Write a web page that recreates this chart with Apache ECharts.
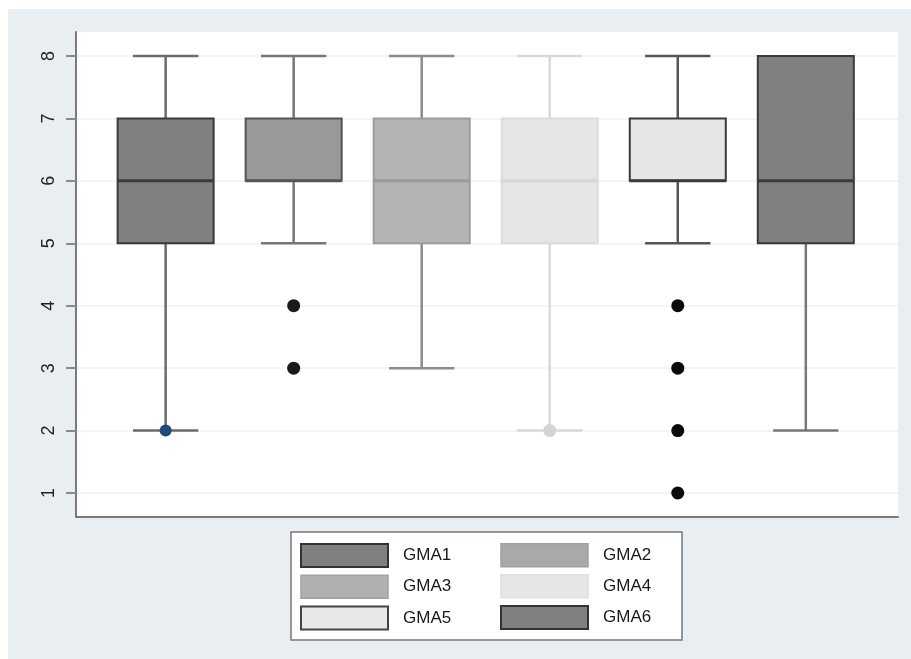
<!DOCTYPE html>
<html>
<head>
<meta charset="utf-8">
<script src="https://cdn.jsdelivr.net/npm/echarts@6/dist/echarts.min.js"></script>
<style>
  html, body { margin: 0; padding: 0; background: #fff; }
  #container { width: 911px; height: 659px; }
</style>
</head>
<body>
<div id="container"></div>
<script>
// 各组名称（x轴位置按顺序 1..6）
var groups = ['GMA1', 'GMA2', 'GMA3', 'GMA4', 'GMA5', 'GMA6'];
// 箱线图五数：下须、Q1、中位数、Q3、上须
var lowWhisker = [2, 5, 3, 2, 5, 2];
var q1Values = [5, 6, 5, 5, 6, 5];
var medians = [6, 6, 6, 6, 6, 6];
var q3Values = [7, 7, 7, 7, 7, 8];
var highWhisker = [8, 8, 8, 8, 8, 8];
// 离群点
var outliers = [[2], [4, 3], [], [2], [4, 3, 2, 1], []];
// y轴刻度
var yTicks = [1, 2, 3, 4, 5, 6, 7, 8];

// 样式（与数据分开）
var boxStyles = [
    { fill: '#808080', border: '#3a3a3a', whisker: '#6b6b6b', median: '#3a3a3a', dot: '#1d4b7a' },
    { fill: '#999999', border: '#555555', whisker: '#777777', median: '#555555', dot: '#1a1a1a' },
    { fill: '#b4b4b4', border: '#9c9c9c', whisker: '#8c8c8c', median: '#999999', dot: '#1a1a1a' },
    { fill: '#e6e6e6', border: '#dcdcdc', whisker: '#dadada', median: '#d6d6d6', dot: '#d4d4d4' },
    { fill: '#e6e6e6', border: '#3a3a3a', whisker: '#555555', median: '#3a3a3a', dot: '#0a0a0a' },
    { fill: '#808080', border: '#3a3a3a', whisker: '#777777', median: '#3a3a3a', dot: '#1a1a1a' }
];
var legendStyles = [
    { color: '#808080', borderColor: '#333333', borderWidth: 2 },
    { color: '#a9a9a9', borderColor: '#a0a0a0', borderWidth: 1.5 },
    { color: '#b0b0b0', borderColor: '#a2a2a2', borderWidth: 1.5 },
    { color: '#e6e6e6', borderColor: '#e0e0e0', borderWidth: 1.5 },
    { color: '#e8e8e8', borderColor: '#444444', borderWidth: 2 },
    { color: '#808080', borderColor: '#333333', borderWidth: 2 }
];

function renderBox(params, api) {
    var s = boxStyles[Math.floor(params.seriesIndex / 2)];
    var x = api.value(0);
    var lo = api.coord([x, api.value(1)]);
    var q1 = api.coord([x, api.value(2)]);
    var md = api.coord([x, api.value(3)]);
    var q3 = api.coord([x, api.value(4)]);
    var hi = api.coord([x, api.value(5)]);
    var w = api.size([0.75, 0])[0];
    var cap = w * 0.68;
    var cx = lo[0];
    var children = [];
    var lineStyle = { stroke: s.whisker, lineWidth: 2.5 };

    // 须线
    if (hi[1] < q3[1]) {
        children.push({ type: 'line', shape: { x1: cx, y1: q3[1], x2: cx, y2: hi[1] }, style: lineStyle });
        children.push({ type: 'line', shape: { x1: cx - cap / 2, y1: hi[1], x2: cx + cap / 2, y2: hi[1] }, style: lineStyle });
    }
    if (lo[1] > q1[1]) {
        children.push({ type: 'line', shape: { x1: cx, y1: q1[1], x2: cx, y2: lo[1] }, style: lineStyle });
        children.push({ type: 'line', shape: { x1: cx - cap / 2, y1: lo[1], x2: cx + cap / 2, y2: lo[1] }, style: lineStyle });
    }
    // 箱体
    children.push({
        type: 'rect',
        shape: { x: cx - w / 2, y: q3[1], width: w, height: q1[1] - q3[1] },
        style: { fill: s.fill, stroke: s.border, lineWidth: 2 }
    });
    // 中位数
    children.push({
        type: 'line',
        shape: { x1: cx - w / 2, y1: md[1], x2: cx + w / 2, y2: md[1] },
        style: { stroke: s.median, lineWidth: 3 }
    });
    return { type: 'group', children: children };
}

var series = [];
groups.forEach(function (name, i) {
    series.push({
        name: name,
        type: 'custom',
        renderItem: renderBox,
        itemStyle: { color: boxStyles[i].fill },
        data: [[i + 1, lowWhisker[i], q1Values[i], medians[i], q3Values[i], highWhisker[i]]],
        z: 2
    });
    series.push({
        name: name + ' outliers',
        type: 'scatter',
        symbolSize: i === 0 ? 12 : 13,
        itemStyle: { color: boxStyles[i].dot, opacity: 1 },
        data: outliers[i].map(function (v) { return [i + 1, v]; }),
        z: 5
    });
});

function legendData(idx) {
    return idx.map(function (i) {
        return { name: groups[i], itemStyle: legendStyles[i] };
    });
}

var legendBase = {
    orient: 'vertical',
    top: 543,
    padding: 0,
    itemWidth: 87,
    itemHeight: 23,
    itemGap: 6.5,
    icon: 'rect',
    selectedMode: false,
    textStyle: { fontFamily: 'Liberation Sans', fontSize: 17, color: '#1a1a1a', padding: [0, 0, 0, 10] }
};

var option = {
    backgroundColor: '#ffffff',
    animation: false,
    graphic: [
        { type: 'rect', z: -100, shape: { x: 8, y: 9, width: 903, height: 650 }, style: { fill: '#e8eef1' } },
        { type: 'rect', z: 3, shape: { x: 291, y: 532, width: 391, height: 108 }, style: { fill: '#ffffff', stroke: '#777777', lineWidth: 1.5 } }
    ],
    grid: {
        left: 76, top: 32, width: 822, height: 485,
        show: true, backgroundColor: '#ffffff', borderWidth: 0
    },
    legend: [
        Object.assign({}, legendBase, { left: 300, data: legendData([0, 2, 4]) }),
        Object.assign({}, legendBase, { left: 500, data: legendData([1, 3, 5]) })
    ],
    xAxis: {
        type: 'value',
        min: 0.3,
        max: 6.72,
        axisLine: { show: true, lineStyle: { color: '#7a7a7a', width: 2 } },
        axisTick: { show: false },
        axisLabel: { show: false },
        splitLine: { show: false }
    },
    yAxis: {
        type: 'value',
        min: 0.616,
        max: 8.384,
        splitNumber: 8,
        minInterval: 1,
        maxInterval: 1,
        axisLine: { show: true, lineStyle: { color: '#7a7a7a', width: 2 } },
        axisTick: { show: true, length: 10, customValues: yTicks, lineStyle: { color: '#8a8a8a', width: 2 } },
        axisLabel: {
            customValues: yTicks,
            rotate: 90,
            margin: 18,
            fontFamily: 'Liberation Sans',
            fontSize: 18,
            color: '#222'
        },
        splitLine: { show: true, lineStyle: { color: '#eef2f4', width: 1.5 } }
    },
    series: series
};

var myChart = echarts.init(document.getElementById('container'));
myChart.setOption(option);
</script>
</body>
</html>
